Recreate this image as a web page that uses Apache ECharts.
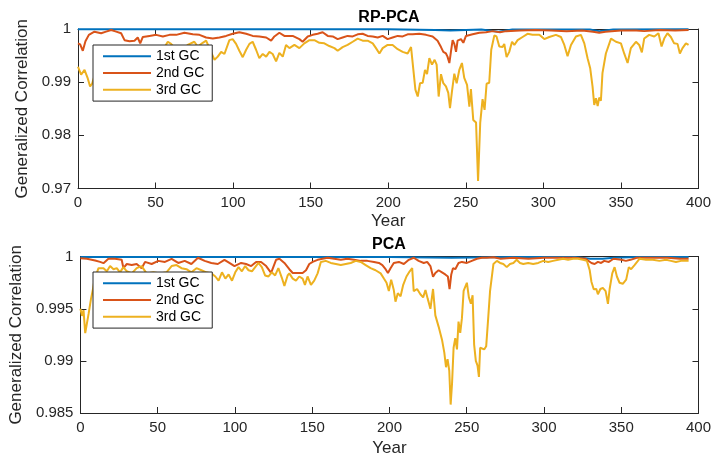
<!DOCTYPE html>
<html>
<head>
<meta charset="utf-8">
<script src="https://cdn.jsdelivr.net/npm/echarts@6/dist/echarts.min.js"></script>
<style>html,body{margin:0;padding:0;background:#fff}#c{width:714px;height:458px}</style>
</head>
<body>
<div id="c"></div>
<script>
// ---------- data ----------
const seriesNames = ['1st GC', '2nd GC', '3rd GC'];
const seriesColors = ['#0072BD', '#D95319', '#EDB120'];
const xTicks = [0, 50, 100, 150, 200, 250, 300, 350, 400];
const topYTicks = [0.97, 0.98, 0.99, 1];
const bottomYTicks = [0.985, 0.99, 0.995, 1];

// RP-PCA panel
const rpYears1 = [0, 50, 100, 150, 200, 230, 240, 260, 271, 280, 330, 336, 345, 393.6];
const rpGC1 = [0.99995, 0.99996, 0.99995, 0.99996, 0.99995, 0.9998, 0.9997, 0.9999, 0.9995, 0.9999, 0.9999, 0.9996, 0.9999, 0.99995];

const rpYears2 = [0, 1.4, 3.1, 4.8, 7, 10.6, 14.9, 18.1, 21.4, 24.6, 27.8, 30, 33.2, 36.4, 38.5, 40.1, 41.8, 46.1, 50.4, 54.7, 59, 63.3, 68.6, 74, 78.3, 82.6, 86.9, 91.2, 95.5, 99.7, 104, 108.4, 112.6, 116.9, 121.3, 124.5, 126.6, 129.8, 133, 138.4, 142.7, 144.8, 148.1, 151.3, 154.5, 157.7, 161, 164.2, 167.4, 170.6, 173.8, 177.1, 180.3, 183.5, 186.7, 190, 193.2, 196.4, 199.6, 202.8, 206.1, 209.3, 212.5, 215.7, 220, 224.4, 228.6, 231.8, 234, 235.5, 237.2, 238.2, 239.4, 240.4, 241.5, 242.6, 243.7, 244.7, 246.9, 248.4, 250.1, 254.4, 258.7, 263, 267.3, 272, 276, 285, 295, 305, 315, 325, 332, 336, 340, 350, 360, 365, 375, 385, 393.6];
const rpGC2 = [0.9973, 0.9971, 0.9959, 0.9977, 0.9989, 0.9995, 0.9992, 0.9995, 0.9998, 0.9995, 0.9992, 0.9979, 0.9977, 0.9978, 0.9984, 0.9973, 0.9985, 0.9987, 0.9989, 0.9986, 0.9989, 0.9989, 0.9993, 0.999, 0.9989, 0.9984, 0.9982, 0.9984, 0.9987, 0.9991, 0.9994, 0.9991, 0.9987, 0.9986, 0.9984, 0.9978, 0.9986, 0.9993, 0.9987, 0.9987, 0.9981, 0.9976, 0.9986, 0.9989, 0.9991, 0.9994, 0.9987, 0.9986, 0.9981, 0.9984, 0.9987, 0.9986, 0.999, 0.9991, 0.9987, 0.9986, 0.9984, 0.9987, 0.9981, 0.9984, 0.9987, 0.9986, 0.999, 0.999, 0.9991, 0.9989, 0.9986, 0.9978, 0.9966, 0.9957, 0.9954, 0.9948, 0.9936, 0.9957, 0.9979, 0.9972, 0.9957, 0.9978, 0.9981, 0.9974, 0.9987, 0.999, 0.9993, 0.9994, 0.9996, 0.9994, 0.9996, 0.9997, 0.9998, 0.9997, 0.9996, 0.9997, 0.9995, 0.9993, 0.9995, 0.9997, 0.9997, 0.9996, 0.9998, 0.9997, 0.9998];

const rpYears3 = [0, 2, 4.2, 6.3, 7.8, 9.1, 12, 16, 20, 25, 30, 35, 40, 45, 50, 53, 55.7, 57.9, 60, 63.3, 67.5, 70.7, 75, 77.2, 80.4, 82.6, 84.7, 88, 90.1, 92.3, 94.4, 97.6, 99.7, 101.9, 104, 106.2, 108.4, 110.5, 112.6, 114.8, 116.9, 119.1, 121.3, 123.4, 125.5, 127.7, 129.8, 132, 134.1, 136.3, 139.5, 142.7, 145.9, 149.2, 152.4, 155.6, 158.8, 162, 165.3, 167.4, 170.6, 173.8, 177.1, 180.3, 183.5, 186.7, 190, 192.1, 194.3, 196.4, 199.6, 202.8, 206.1, 209.3, 212.5, 214.7, 216.2, 217.5, 219, 220.5, 222.2, 223.7, 225, 226.5, 228.2, 229.9, 231.2, 232.5, 234, 235.5, 237.2, 238.7, 239.8, 241.1, 242.6, 244.1, 245.8, 247.5, 249, 250.8, 252.3, 253.3, 254.8, 256.6, 257.9, 259.3, 260.8, 262.1, 263.4, 265.1, 266.4, 268.4, 269.8, 271.6, 273.7, 274.8, 276.3, 278, 279.8, 281.3, 283.4, 286.6, 289.8, 293, 297.4, 300.6, 303.8, 308.1, 311.3, 313.5, 315.6, 317.8, 321, 324.2, 326.4, 328.5, 330.2, 331.7, 332.8, 333.9, 335, 336, 337.1, 338.1, 340.3, 343.6, 346.8, 350, 352.1, 354.3, 356.4, 359.7, 361.8, 363.5, 365, 368.2, 371.5, 374.2, 376.2, 377.9, 380, 382.2, 384.3, 386.5, 388, 389.7, 391.9, 393.6];
const rpGC3 = [0.9929, 0.9914, 0.9923, 0.9907, 0.9892, 0.9897, 0.9925, 0.9945, 0.9935, 0.995, 0.994, 0.9948, 0.9935, 0.9952, 0.9945, 0.9958, 0.9965, 0.9976, 0.9972, 0.9961, 0.9958, 0.997, 0.9976, 0.9967, 0.9974, 0.9978, 0.9964, 0.9942, 0.9948, 0.9957, 0.9953, 0.9979, 0.9981, 0.9972, 0.9959, 0.9947, 0.9961, 0.9972, 0.9976, 0.9961, 0.9945, 0.9953, 0.9948, 0.9957, 0.9953, 0.9939, 0.9955, 0.9948, 0.997, 0.9964, 0.997, 0.9964, 0.9973, 0.9979, 0.9979, 0.9974, 0.9973, 0.9968, 0.9964, 0.9959, 0.9966, 0.997, 0.9976, 0.9982, 0.9978, 0.9978, 0.9973, 0.9964, 0.9954, 0.9964, 0.997, 0.997, 0.9962, 0.9957, 0.9954, 0.9966, 0.9923, 0.9886, 0.9873, 0.9898, 0.9899, 0.9923, 0.9915, 0.9945, 0.9933, 0.9942, 0.9933, 0.9873, 0.9915, 0.9898, 0.9892, 0.988, 0.9851, 0.9883, 0.9916, 0.9898, 0.9923, 0.9936, 0.9908, 0.9895, 0.9854, 0.9887, 0.9829, 0.9824, 0.9714, 0.9824, 0.9868, 0.9848, 0.9897, 0.9899, 0.9961, 0.9988, 0.9986, 0.9967, 0.9966, 0.9972, 0.9947, 0.9957, 0.9976, 0.997, 0.9979, 0.9985, 0.9991, 0.9989, 0.9989, 0.9981, 0.9985, 0.9989, 0.9985, 0.997, 0.9949, 0.997, 0.9986, 0.9989, 0.9973, 0.9945, 0.9926, 0.9892, 0.9857, 0.987, 0.9855, 0.9871, 0.9865, 0.9917, 0.9954, 0.9982, 0.9976, 0.9973, 0.9954, 0.9936, 0.9964, 0.9976, 0.997, 0.9956, 0.9982, 0.9989, 0.9986, 0.9992, 0.9967, 0.9982, 0.9992, 0.9985, 0.9973, 0.9972, 0.9954, 0.9964, 0.9973, 0.997];

// PCA panel
const pcaYears1 = [0, 50, 100, 150, 200, 240, 280, 320, 330, 338, 345, 360, 393.6];
const pcaGC1 = [0.99998, 0.99998, 0.99998, 0.99998, 0.99998, 0.9999, 0.99998, 0.99998, 0.9998, 0.9998, 0.9999, 0.99998, 0.99998];

const pcaYears2 = [0, 4.2, 9.5, 12.7, 14.9, 18.1, 22.4, 26.7, 27.8, 30, 33.2, 36.4, 39.6, 41.8, 46.1, 50.4, 54.7, 59, 63.3, 67.5, 71.8, 76.1, 80.4, 84.7, 88.9, 93.2, 96.4, 99.7, 104, 107.2, 110.5, 113.7, 116.9, 120.2, 123.4, 126.6, 128.8, 132, 135.2, 137.4, 140.6, 143.8, 146, 148.1, 150.3, 153.5, 156.7, 160, 164.2, 168.5, 172.8, 177.1, 181.4, 185.7, 190, 193.2, 195.4, 197.5, 199, 200.7, 202.8, 206.1, 209.3, 212.5, 215.7, 218.9, 222.2, 224.4, 226.5, 228.2, 229.7, 231.8, 234, 236.1, 237.8, 238.9, 240, 241.1, 242.6, 244.7, 246.9, 250.1, 253.3, 256.6, 259.8, 263, 267.3, 272, 280, 290, 300, 310, 320, 327, 330.7, 332.8, 334.9, 337, 339, 342, 345, 350, 353, 356, 360, 370, 380, 388, 393.6];
const pcaGC2 = [0.99985, 0.9998, 0.99963, 0.9995, 0.99938, 0.9998, 0.9998, 0.9997, 0.99891, 0.9993, 0.9992, 0.9993, 0.9989, 0.9995, 0.9993, 0.9996, 0.9995, 0.9998, 0.9994, 0.9996, 0.9993, 0.9999, 0.9996, 0.9994, 0.9993, 0.9997, 0.9994, 0.9991, 0.9994, 0.9993, 0.9991, 0.9995, 0.9995, 0.9991, 0.99844, 0.9997, 0.9998, 0.9994, 0.9988, 0.99844, 0.99844, 0.99844, 0.9987, 0.9993, 0.9995, 0.9997, 0.9998, 0.9999, 0.9998, 0.9997, 0.9998, 0.9997, 0.9996, 0.9996, 0.9995, 0.9994, 0.9992, 0.9988, 0.99844, 0.9989, 0.9994, 0.9995, 0.9993, 0.9997, 0.9999, 0.9996, 0.9994, 0.9995, 0.9991, 0.99807, 0.99844, 0.9987, 0.9985, 0.9983, 0.9981, 0.99688, 0.9983, 0.9989, 0.9988, 0.9994, 0.9995, 0.9994, 0.9996, 0.9998, 0.9999, 0.9999, 0.99995, 0.9998, 0.9999, 0.9998, 0.9999, 0.9999, 0.9999, 0.9998, 0.9994, 0.9993, 0.9995, 0.9994, 0.9996, 0.9995, 0.9998, 0.9997, 0.9996, 0.9997, 0.9999, 0.9999, 0.9999, 0.9998, 0.9998];

const pcaYears3 = [0, 1, 2, 3.1, 4.2, 5.3, 6.8, 8.1, 9.1, 11.7, 14.9, 17.1, 19.2, 21.4, 23.5, 25.6, 27.8, 30, 33.2, 36.4, 39.6, 42.8, 47.2, 51.4, 55.7, 59, 62.2, 65.4, 68.6, 71.8, 75.1, 78.3, 81.5, 84.7, 87.3, 89.4, 91.6, 93.8, 95.9, 98.1, 100.2, 102.3, 104.5, 106.6, 108.8, 111, 113.1, 115.2, 117.4, 119.5, 121.7, 123.8, 126, 128.1, 130.3, 132, 134.1, 135.2, 137.4, 139.5, 141.6, 143.8, 145.3, 147, 149.2, 151.3, 153.5, 155.6, 158.8, 162, 165.3, 168.5, 171.7, 174.9, 178.2, 181.4, 184.6, 187.8, 191, 194.3, 196.4, 198.1, 199.6, 201.1, 202.8, 203.9, 205.4, 207.2, 208.9, 211, 213.1, 214.7, 215.7, 217.9, 220, 221.8, 223.3, 224.7, 226.5, 228.2, 229.7, 231.8, 234, 235.5, 236.6, 237.6, 238.7, 239.6, 240.5, 241.5, 242.6, 243.7, 244.7, 245.8, 246.9, 248, 249, 250.1, 251.4, 252.7, 253.8, 254.8, 255.9, 257, 257.9, 258.7, 259.8, 261.3, 262.6, 263.9, 265.1, 267.3, 269.5, 271.6, 273.7, 275.9, 278, 280.2, 282.3, 284.5, 286.6, 289.8, 293, 296.3, 299.5, 302.7, 305.9, 309.2, 312.4, 315.6, 318.8, 322, 325.3, 327.8, 329.6, 330.7, 332.2, 333.9, 334.9, 336.5, 338.1, 339.9, 341.4, 342.5, 344.2, 345.7, 347.2, 348.9, 351, 353.2, 354.9, 356.4, 358.6, 361.8, 366.1, 370.4, 374.7, 379, 382.2, 385.4, 388.7, 391.9, 393.6];
const pcaGC3 = [0.995, 0.99432, 0.99487, 0.99266, 0.9936, 0.99453, 0.99593, 0.99687, 0.9978, 0.9989, 0.9989, 0.9986, 0.9991, 0.9988, 0.9989, 0.9985, 0.999, 0.9986, 0.9984, 0.9989, 0.9991, 0.9984, 0.9985, 0.9984, 0.9985, 0.9991, 0.9992, 0.9989, 0.9988, 0.9985, 0.9989, 0.9987, 0.9985, 0.9984, 0.9981, 0.9977, 0.9985, 0.9979, 0.9983, 0.9977, 0.9985, 0.999, 0.9986, 0.9991, 0.9987, 0.9986, 0.999, 0.9994, 0.999, 0.9982, 0.9981, 0.9985, 0.9982, 0.9989, 0.998, 0.9972, 0.9982, 0.9984, 0.9979, 0.9977, 0.9981, 0.9979, 0.9973, 0.9981, 0.9973, 0.9977, 0.9984, 0.9995, 0.9996, 0.9994, 0.9993, 0.9992, 0.9993, 0.9994, 0.9996, 0.9995, 0.9992, 0.9989, 0.9987, 0.9984, 0.9979, 0.9975, 0.99671, 0.9978, 0.9968, 0.99568, 0.9965, 0.9962, 0.9973, 0.9981, 0.9986, 0.9989, 0.9967, 0.9969, 0.9964, 0.9961, 0.9968, 0.996, 0.995, 0.9969, 0.99437, 0.99329, 0.99204, 0.99079, 0.98939, 0.99017, 0.98908, 0.98581, 0.98783, 0.99126, 0.99219, 0.9911, 0.99377, 0.9927, 0.9941, 0.99672, 0.9969, 0.9975, 0.9961, 0.9955, 0.9963, 0.99157, 0.99001, 0.98955, 0.98846, 0.99126, 0.99142, 0.9911, 0.9914, 0.9941, 0.9967, 0.9993, 0.9996, 0.9994, 0.9993, 0.999, 0.9993, 0.9994, 0.9997, 0.9994, 0.9993, 0.9994, 0.9993, 0.9994, 0.9996, 0.9995, 0.9996, 0.9997, 0.9998, 0.9997, 0.9998, 0.9998, 0.9997, 0.9996, 0.9987, 0.9976, 0.99687, 0.9969, 0.9964, 0.9969, 0.997, 0.9967, 0.99547, 0.9969, 0.9984, 0.999, 0.9981, 0.9975, 0.9974, 0.9978, 0.999, 0.9988, 0.9992, 0.9998, 0.9997, 0.9997, 0.9996, 0.9997, 0.9996, 0.9995, 0.9996, 0.9996, 0.9996];

// ---------- chart ----------
const FONT = '"Liberation Sans", Arial, Helvetica, sans-serif';
const AX = '#262626';
const pair = (xs, ys) => xs.map((x, i) => [x, ys[i]]);

const panels = [
  { title: 'RP-PCA', titleTop: 10, top: 29, height: 159.5, yt: topYTicks, nameGap: 44, xNameGap: 24,
    legendTop: 45, data: [pair(rpYears1, rpGC1), pair(rpYears2, rpGC2), pair(rpYears3, rpGC3)] },
  { title: 'PCA', titleTop: 237, top: 256.7, height: 160, yt: bottomYTicks, nameGap: 54, xNameGap: 27,
    legendTop: 272, data: [pair(pcaYears1, pcaGC1), pair(pcaYears2, pcaGC2), pair(pcaYears3, pcaGC3)] }
];

const grid = [], xAxis = [], yAxis = [], series = [], legend = [], title = [];
panels.forEach((p, k) => {
  grid.push({ left: 78, top: p.top, width: 621.3, height: p.height });
  const xmin = xTicks[0], xmax = xTicks[xTicks.length - 1], xint = xTicks[1] - xTicks[0];
  const ymin = p.yt[0], ymax = p.yt[p.yt.length - 1];
  const yint = Math.round((p.yt[1] - p.yt[0]) * 1e6) / 1e6;
  const line = { show: true, onZero: false, lineStyle: { color: AX, width: 1 } };
  const tick = { show: true, inside: true, length: 6, lineStyle: { color: AX, width: 1 } };
  xAxis.push({ type: 'value', gridIndex: k, position: 'bottom', min: xmin, max: xmax, interval: xint,
    axisLine: line, axisTick: tick, splitLine: { show: false },
    axisLabel: { color: AX, fontSize: 15, fontFamily: FONT, margin: 7 },
    name: 'Year', nameLocation: 'middle', nameGap: p.xNameGap,
    nameTextStyle: { color: AX, fontSize: 17, fontFamily: FONT } });
  xAxis.push({ type: 'value', gridIndex: k, position: 'top', min: xmin, max: xmax, interval: xint,
    axisLine: line, axisTick: tick, splitLine: { show: false }, axisLabel: { show: false } });
  yAxis.push({ type: 'value', gridIndex: k, position: 'left', min: ymin, max: ymax, interval: yint,
    axisLine: line, axisTick: tick, splitLine: { show: false },
    axisLabel: { color: AX, fontSize: 15, fontFamily: FONT, margin: 7 },
    name: 'Generalized Correlation', nameLocation: 'middle', nameRotate: 90, nameGap: p.nameGap,
    nameTextStyle: { color: AX, fontSize: 17, fontFamily: FONT } });
  yAxis.push({ type: 'value', gridIndex: k, position: 'right', min: ymin, max: ymax, interval: yint,
    axisLine: line, axisTick: tick, splitLine: { show: false }, axisLabel: { show: false } });
  seriesNames.forEach((nm, j) => {
    series.push({ name: nm, type: 'line', xAxisIndex: 2 * k, yAxisIndex: 2 * k,
      data: p.data[j], showSymbol: false, symbol: 'none', clip: false,
      lineStyle: { color: seriesColors[j], width: 2 }, itemStyle: { color: seriesColors[j] },
      z: 2 + j });
  });
  legend.push({ data: seriesNames, orient: 'vertical', left: 93, top: p.legendTop,
    icon: 'rect', itemWidth: 48, itemHeight: 2, itemGap: 0, padding: [3, 8, 3, 10],
    backgroundColor: '#ffffff', borderColor: AX, borderWidth: 1, selectedMode: false,
    textStyle: { color: '#000', fontSize: 14, fontFamily: FONT, lineHeight: 16.7 }, z: 10 });
  title.push({ text: p.title, left: 389, textAlign: 'center', top: p.titleTop, padding: 0,
    textStyle: { color: '#000', fontSize: 16, fontWeight: 'bold', fontFamily: FONT } });
});

const chart = echarts.init(document.getElementById('c'), null, { renderer: 'canvas' });
chart.setOption({ animation: false, backgroundColor: '#fff', title, legend, grid, xAxis, yAxis, series });
</script>
</body>
</html>
